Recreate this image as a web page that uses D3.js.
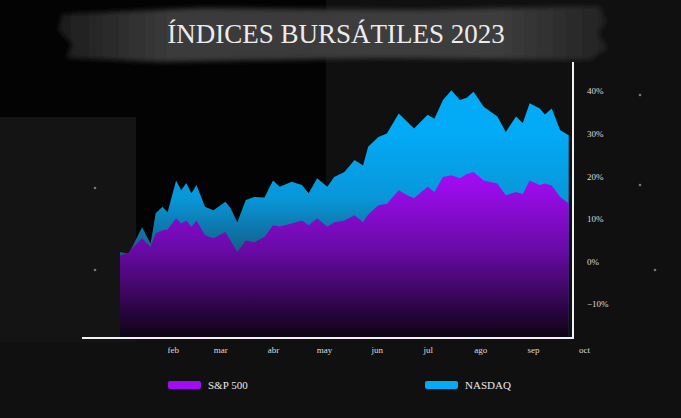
<!DOCTYPE html><html><head><meta charset="utf-8">
<script src="https://cdn.jsdelivr.net/npm/d3@7"></script>
<style>body{margin:0;background:#0f0f0f}svg{display:block}</style></head><body>
<svg id="c" width="681" height="418"></svg>
<script>
const dates=["2023-01-01","2023-01-06","2023-01-09","2023-01-14","2023-01-19","2023-01-22","2023-01-26","2023-01-29","2023-02-03","2023-02-06","2023-02-09","2023-02-12","2023-02-15","2023-02-20","2023-02-25","2023-03-04","2023-03-07","2023-03-11","2023-03-16","2023-03-21","2023-03-27","2023-04-01","2023-04-05","2023-04-12","2023-04-18","2023-04-22","2023-04-27","2023-05-03","2023-05-07","2023-05-13","2023-05-19","2023-05-24","2023-05-27","2023-06-02","2023-06-07","2023-06-14","2023-06-19","2023-06-23","2023-07-01","2023-07-05","2023-07-10","2023-07-15","2023-07-20","2023-07-24","2023-07-28","2023-08-03","2023-08-11","2023-08-16","2023-08-22","2023-08-26","2023-08-30","2023-09-05","2023-09-08","2023-09-12","2023-09-17","2023-09-22"];
const nasdaq=[2.2,1.8,4,8,4.2,11.3,12.8,11.5,19,16.7,18.4,16,17.9,12.8,12,14,12.5,9.2,14.4,15.1,15,19,17.5,18.7,17.9,16,19.5,17.5,19.8,21,23.8,22.5,26.9,29.2,30,34.7,32.8,31.2,34.4,33.5,37.9,40.2,37.9,38.4,39.8,36.3,34,30.4,34,32.5,37.1,35.9,34.5,35.9,30.8,29.6];
const sp500=[1.4,2,3.4,5.4,3.4,6.6,7.3,7.5,10.1,8.9,9.6,8.1,9.6,6.1,5.4,6.9,4.9,2.2,4.9,4.5,5.7,8.5,8.2,8.9,9.6,8.5,10.1,8.1,9.2,9.6,10.8,9.2,11,13.2,13.5,16.7,15.5,14.8,17.5,16.3,19.8,20.2,19.5,20.5,21,19,18.3,15.5,16.3,15.8,19,17.9,18.3,17.8,15.1,13.6];
const months=["feb","mar","abr","may","jun","jul","ago","sep","oct"];
const yTicks=[-10,0,10,20,30,40];
const title="ÍNDICES BURSÁTILES 2023";
const series=["S&P 500","NASDAQ"];

const svg=d3.select("#c");
const parse=d3.timeParse("%Y-%m-%d");
const D=dates.map(parse);
const x=d3.scaleTime().domain([parse("2023-01-01"),parse("2023-10-01")]).range([120,584]);
const y=d3.scaleLinear().domain([-18,40]).range([338,91]);
svg.append("rect").attr("width",681).attr("height",418).attr("fill","#101010");
svg.append("rect").attr("x",0).attr("y",0).attr("width",326).attr("height",338).attr("fill","#030303");
svg.append("rect").attr("x",0).attr("y",117).attr("width",136).attr("height",225).attr("fill","#141414");
const dots=[[95,188],[95,270],[640,185],[655,270],[640,95],[320,335],[410,335]];
svg.selectAll(".dot").data(dots).join("circle").attr("cx",d=>d[0]).attr("cy",d=>d[1]).attr("r",1.3).attr("fill","#777");
const defs=svg.append("defs");
const fb=defs.append("filter").attr("id","blur");fb.append("feGaussianBlur").attr("stdDeviation",2.5);
const bg=defs.append("linearGradient").attr("id","br");
bg.append("stop").attr("offset",0).attr("stop-color","#1c1c1c");
bg.append("stop").attr("offset",0.2).attr("stop-color","#3a3a3a");
bg.append("stop").attr("offset",0.8).attr("stop-color","#3d3d3d");
bg.append("stop").attr("offset",1).attr("stop-color","#222");
svg.append("path").attr("d","M62,14 L200,8 L420,10 L600,6 L606,22 L598,34 L608,48 L590,60 L380,58 L160,62 L66,58 L72,44 L58,30 Z").attr("fill","url(#br)").attr("filter","url(#blur)");
svg.append("text").attr("x",336).attr("y",43).attr("text-anchor","middle").attr("fill","#ececec")
 .attr("font-family","Liberation Serif, serif").attr("font-size",27).text(title);
const gp=defs.append("linearGradient").attr("id","gp").attr("gradientUnits","userSpaceOnUse").attr("x1",0).attr("x2",0).attr("y1",y(20)).attr("y2",338);
gp.append("stop").attr("offset",0).attr("stop-color","#a20cf5");
gp.append("stop").attr("offset",0.45).attr("stop-color","#6a0aa8");
gp.append("stop").attr("offset",1).attr("stop-color","#0d0312");
const gb=defs.append("linearGradient").attr("id","gb").attr("gradientUnits","userSpaceOnUse").attr("x1",0).attr("x2",0).attr("y1",y(30)).attr("y2",y(2));
gb.append("stop").attr("offset",0).attr("stop-color","#03aaf6");
gb.append("stop").attr("offset",0.55).attr("stop-color","#0896d8");
gb.append("stop").attr("offset",1).attr("stop-color","#135e86");
const area=v=>d3.area().x((d,i)=>x(D[i])).y0(338).y1(d=>y(d))(v);
svg.append("path").attr("d",area(nasdaq)).attr("fill","url(#gb)");
svg.append("path").attr("d",area(sp500)).attr("fill","url(#gp)");
svg.append("line").attr("x1",82).attr("x2",574).attr("y1",338).attr("y2",338).attr("stroke","#f2f2f2").attr("stroke-width",2);
svg.append("line").attr("x1",573).attr("x2",573).attr("y1",62).attr("y2",339).attr("stroke","#f2f2f2").attr("stroke-width",2);
const ya=svg.append("g").attr("transform","translate(584,0)").call(d3.axisRight(y).tickValues(yTicks).tickSize(0).tickFormat(d=>(d<0?"−":"")+Math.abs(d)+"%"));
ya.select(".domain").remove();
ya.selectAll("text").attr("fill","#ddd").attr("font-family","Liberation Serif, serif").attr("font-size",9);
const mDates=months.map((m,i)=>new Date(2023,i+1,1));
const xa=svg.append("g").attr("transform","translate(0,344)").call(d3.axisBottom(x).tickValues(mDates).tickSize(0).tickFormat((d,i)=>months[i]));
xa.select(".domain").remove();
xa.selectAll("text").attr("fill","#ddd").attr("font-family","Liberation Serif, serif").attr("font-size",9);
const lg=[[168,"#a20cf5"],[425,"#03aaf6"]];
lg.forEach((l,i)=>{
 svg.append("rect").attr("x",l[0]).attr("y",381).attr("width",33).attr("height",8).attr("rx",2).attr("fill",l[1]);
 svg.append("text").attr("x",l[0]+40).attr("y",389).attr("fill","#e8e8e8").attr("font-family","Liberation Serif, serif").attr("font-size",11).text(series[i]);
});
</script></body></html>
